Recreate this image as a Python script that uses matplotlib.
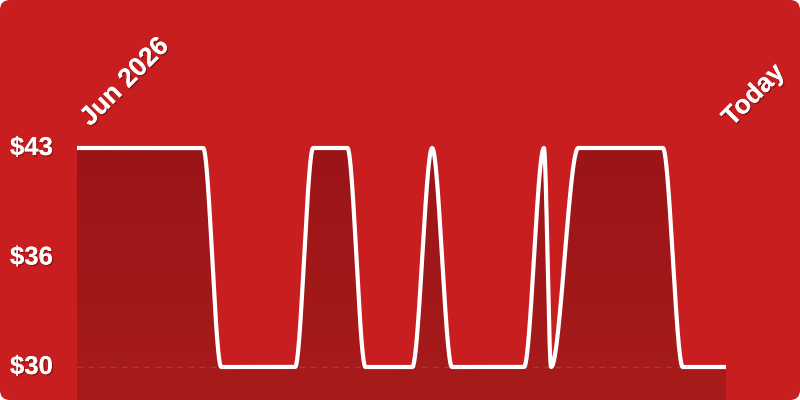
import numpy as np
import matplotlib
matplotlib.use("Agg")
import matplotlib.pyplot as plt
from matplotlib.patches import FancyBboxPatch, Polygon
from matplotlib.colors import LinearSegmentedColormap
import matplotlib.patheffects as pe

# ---- data ----
days = [0, 70, 80, 121, 131, 150, 160, 186, 197, 208, 248, 259, 263, 278, 325, 336, 360]
prices = [43, 43, 30, 30, 43, 43, 30, 30, 43, 30, 30, 43, 30, 43, 43, 30, 30]
ytick_values = [30, 36.5, 43]
ytick_labels = ["$30", "$36", "$43"]
start_label = "Jun 2026"
end_label = "Today"

BG = "#c91e1f"
W, H = 800, 400


def pchip(x, y, xs):
    x = np.asarray(x, float)
    y = np.asarray(y, float)
    h = np.diff(x)
    d = np.diff(y) / h
    n = len(x)
    m = np.zeros(n)
    for k in range(1, n - 1):
        if d[k - 1] * d[k] > 0:
            w1 = 2 * h[k] + h[k - 1]
            w2 = h[k] + 2 * h[k - 1]
            m[k] = (w1 + w2) / (w1 / d[k - 1] + w2 / d[k])
    out = np.empty_like(xs)
    idx = np.clip(np.searchsorted(x, xs, side="right") - 1, 0, n - 2)
    for i, xv in enumerate(xs):
        k = idx[i]
        t = (xv - x[k]) / h[k]
        h00 = 2 * t**3 - 3 * t**2 + 1
        h10 = t**3 - 2 * t**2 + t
        h01 = -2 * t**3 + 3 * t**2
        h11 = t**3 - t**2
        out[i] = h00 * y[k] + h10 * h[k] * m[k] + h01 * y[k + 1] + h11 * h[k] * m[k + 1]
    return out


fig = plt.figure(figsize=(8, 4), dpi=100)
fig.patch.set_facecolor("white")
bg = FancyBboxPatch((0, 0), 1, 1, boxstyle="round,pad=0,rounding_size=0.0125",
                    mutation_aspect=2.0,
                    transform=fig.transFigure, facecolor=BG, edgecolor="none", zorder=-5)
fig.patches.append(bg)

ax = fig.add_axes([77 / W, 0, 649 / W, 1])
ax.set_zorder(1)
ax.set_facecolor("none")
for s in ax.spines.values():
    s.set_visible(False)
ax.set_xticks([])
ax.set_yticks([])

px_per_unit = 219 / 13
ymin = 30 - 33 / px_per_unit
ymax = 30 + 367 / px_per_unit
ax.set_xlim(days[0], days[-1])
ax.set_ylim(ymin, ymax)

xs = np.linspace(days[0], days[-1], 3000)
ys = pchip(days, prices, xs)

# gradient fill clipped under the line
verts = np.column_stack([np.r_[xs, xs[-1], xs[0]], np.r_[ys, ymin, ymin]])
poly = Polygon(verts, closed=True, facecolor="none", edgecolor="none")
ax.add_patch(poly)
grad = np.linspace(0, 1, 256).reshape(-1, 1)
cmap = LinearSegmentedColormap.from_list("g", ["#a81b1b", "#9a1518"])
im = ax.imshow(grad, extent=[days[0], days[-1], ymin, 43.5], origin="lower",
               aspect="auto", cmap=cmap, zorder=1)
im.set_clip_path(poly)

ax.axhline(30, color="#8e4646", lw=1, ls=(0, (4, 4)), zorder=2)
ax.plot(xs, ys, color="white", lw=3, solid_capstyle="butt", zorder=3)

shadow = [pe.withSimplePatchShadow(offset=(1, -1), shadow_rgbFace="black", alpha=0.3), pe.Normal()]
font = dict(family="Liberation Sans", fontweight="bold", color="white")

for v, lab in zip(ytick_values, ytick_labels):
    ypix = 367 - (v - 30) * px_per_unit
    fig.text(10 / W, 1 - ypix / H, lab, ha="left", va="center", fontsize=18.5,
             path_effects=shadow, **font)

fig.text(90 / W, 1 - 127 / H, start_label, rotation=45, rotation_mode="anchor",
         ha="left", va="baseline", fontsize=19, path_effects=shadow, **font)
fig.text(732 / W, 1 - 127 / H, end_label, rotation=45, rotation_mode="anchor",
         ha="left", va="baseline", fontsize=19, path_effects=shadow, **font)

fig.savefig("out.png", dpi=100, facecolor="white")
